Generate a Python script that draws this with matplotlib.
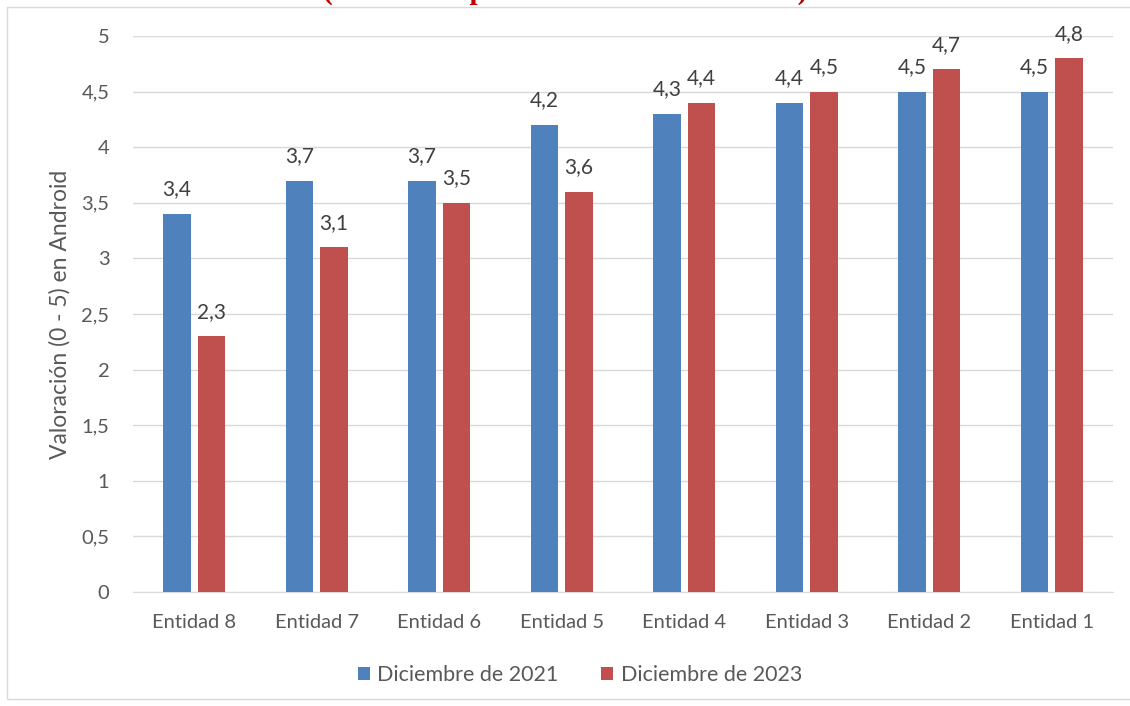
import matplotlib
matplotlib.use("Agg")
import matplotlib.pyplot as plt
import numpy as np
from matplotlib.patches import Rectangle

categories = ["Entidad 8", "Entidad 7", "Entidad 6", "Entidad 5", "Entidad 4", "Entidad 3", "Entidad 2", "Entidad 1"]
vals_2021 = [3.4, 3.7, 3.7, 4.2, 4.3, 4.4, 4.5, 4.5]
vals_2023 = [2.3, 3.1, 3.5, 3.6, 4.4, 4.5, 4.7, 4.8]
series_names = ["Diciembre de 2021", "Diciembre de 2023"]
yticks = [0, 0.5, 1, 1.5, 2, 2.5, 3, 3.5, 4, 4.5, 5]
title = "(ordenadas por valoración en Android)"
ylabel = "Valoración (0 - 5) en Android"

blue = "#4F81BD"
red = "#C0504D"
txt = "#595959"
plt.rcParams['font.family'] = ['Lato', 'DejaVu Sans']

W, H = 1130, 706
fig = plt.figure(figsize=(W/100, H/100), dpi=100)
ax = fig.add_axes([133/W, 1-592/H, (1113-133)/W, (592-36)/H])

# chart border
fig.patches.append(Rectangle((7/W, 1-699/H), (1140-7)/W, (699-7)/H, transform=fig.transFigure,
                             fill=False, edgecolor="#D9D9D9", linewidth=1.0))

x = np.arange(len(categories))
bw = 0.225
gap = 0.055
b1 = ax.bar(x - (bw+gap)/2, vals_2021, bw, color=blue, label=series_names[0], zorder=3)
b2 = ax.bar(x + (bw+gap)/2, vals_2023, bw, color=red, label=series_names[1], zorder=3)

def fmt(v):
    return f"{v:.1f}".replace(".", ",")

for bars, vals in ((b1, vals_2021), (b2, vals_2023)):
    for r, v in zip(bars, vals):
        ax.annotate(fmt(v), (r.get_x() + r.get_width()/2, v), xytext=(0, 10.5),
                    textcoords="offset points", ha="center", va="bottom",
                    fontsize=15, color="#404040")

ax.set_xlim(-0.5, len(categories) - 0.5)
ax.set_ylim(0, 5)
ax.set_yticks(yticks)
ax.set_yticklabels([fmt(t) if t != int(t) else str(int(t)) for t in yticks], fontsize=14.5, color=txt)
ax.set_xticks(x)
ax.set_xticklabels(categories, fontsize=14.5, color=txt)
ax.tick_params(axis="both", length=0)
ax.tick_params(axis="x", pad=16)
ax.tick_params(axis="y", pad=17)
ax.grid(axis="y", color="#D9D9D9", linewidth=1, zorder=0)
for s in ["top", "right", "left"]:
    ax.spines[s].set_visible(False)
ax.spines["bottom"].set_color("#D9D9D9")
ax.set_ylabel(ylabel, fontsize=16.5, color=txt, labelpad=8)

fig.text(565/W, 1 + 9/H, title, ha="center", va="center", fontsize=21, fontweight="bold",
         color="#C00000", family=["Liberation Serif", "DejaVu Serif"])

leg = fig.legend(handles=[b1, b2], labels=series_names, loc="center", bbox_to_anchor=(580/W, 1-675/H),
                 ncol=2, frameon=False, fontsize=15.5, handlelength=0.55, handleheight=0.55,
                 handletextpad=0.35, columnspacing=2.0)
for t in leg.get_texts():
    t.set_color(txt)

fig.savefig("out.png", dpi=100)
